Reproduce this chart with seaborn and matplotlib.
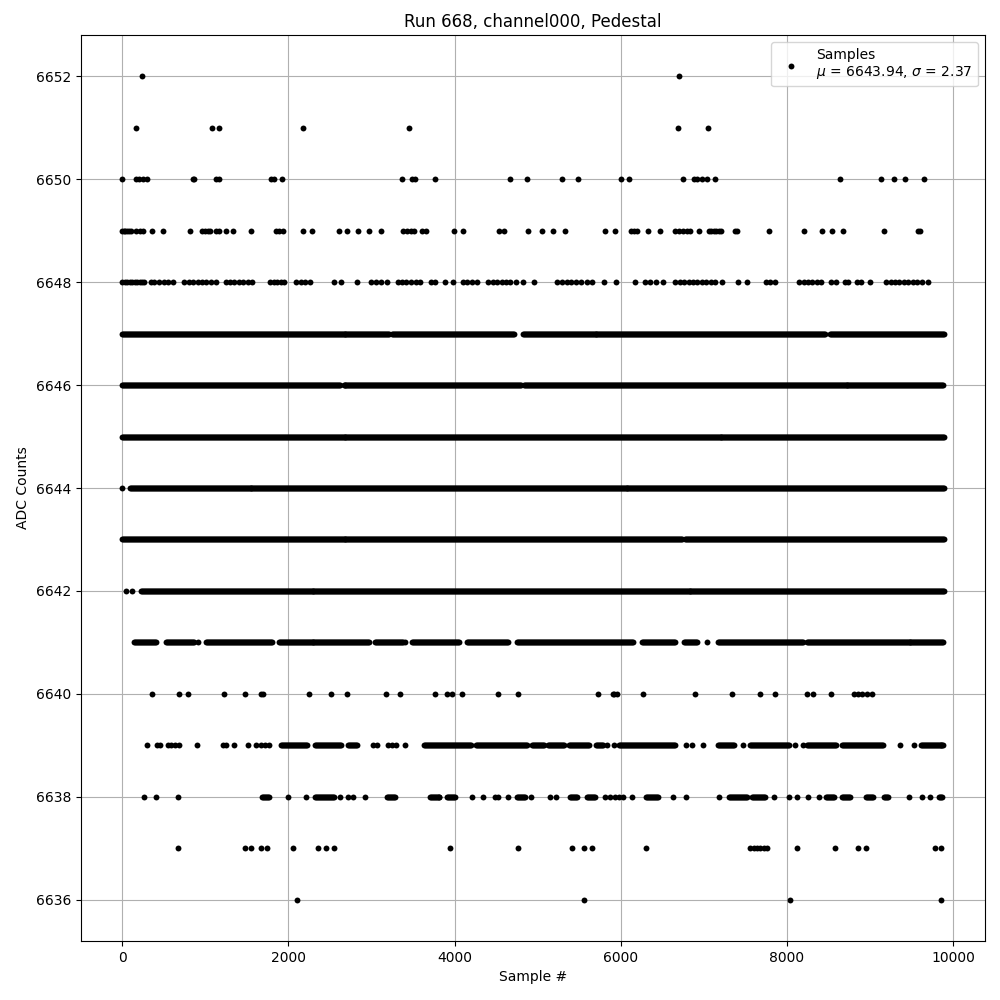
import numpy as np
import pandas as pd
import matplotlib
matplotlib.use("Agg")
import matplotlib.pyplot as plt
import seaborn as sns

# Isolated samples per ADC level (sample numbers)
hits_6652 = [234, 6703]
hits_6651 = [167, 1081, 1168, 2176, 3458, 6683, 7050]
hits_6650 = [0, 167, 200, 247, 294, 848, 868, 1135, 1168, 1796, 1823, 1929, 3371,
             3492, 3525, 3759, 4667, 4873, 5294, 5488, 6008, 6102, 6750, 6877,
             6923, 6977, 7037, 7137, 8639, 9133, 9293, 9420, 9653]
hits_6649 = [0, 20, 40, 60, 80, 113, 167, 214, 247, 360, 494, 821, 961, 995, 1028,
             1061, 1135, 1168, 1248, 1329, 1556, 1856, 1883, 1936, 2176, 2283, 2604,
             2711, 2844, 2971, 3118, 3385, 3431, 3478, 3511, 3605, 3658, 3999, 4099,
             4533, 4593, 4887, 5054, 5187, 5334, 5808, 5935, 6122, 6162, 6195, 6329,
             6476, 6650, 6696, 6750, 6796, 6836, 6943, 7063, 7090, 7117, 7143, 7177,
             7210, 7377, 7397, 7784, 8205, 8425, 8545, 8679, 9166, 9580, 9600]
hits_6648 = [0, 30, 60, 90, 120, 150, 180, 210, 240, 267, 347, 387, 441, 501, 547,
             614, 748, 801, 855, 908, 961, 1015, 1068, 1135, 1248, 1295, 1349, 1402,
             1455, 1515, 1562, 1783, 1829, 1869, 1916, 1949, 2096, 2150, 2203, 2263,
             2550, 2637, 2831, 2998, 3051, 3118, 3185, 3318, 3371, 3418, 3472, 3532,
             3585, 3719, 3759, 3886, 3986, 4099, 4153, 4206, 4273, 4406, 4460, 4513,
             4566, 4620, 4673, 4740, 4820, 4954, 5234, 5294, 5354, 5407, 5461, 5521,
             5588, 5655, 5802, 5948, 6168, 6289, 6356, 6423, 6503, 6656, 6710, 6763,
             6816, 6870, 6923, 6977, 7030, 7083, 7137, 7224, 7410, 7524, 7744, 7791,
             7858, 8145, 8199, 8252, 8305, 8359, 8412, 8532, 8585, 8692, 8732, 8839,
             8892, 8999, 9193, 9246, 9300, 9353, 9406, 9460, 9513, 9567, 9627, 9693]
hits_6640 = [361, 688, 794, 1222, 1482, 1676, 1696, 2250, 2517, 2710, 3171, 3338,
             3765, 3912, 3966, 4092, 4526, 4767, 5728, 5902, 5922, 5955, 6269, 6896,
             7343, 7677, 7858, 8238, 8318, 8525, 8806, 8859, 8906, 8959, 9026]
hits_6637 = [668, 1475, 1556, 1669, 1749, 2056, 2357, 2457, 2544, 3946, 4767, 5414,
             5555, 5648, 6309, 7557, 7600, 7640, 7680, 7720, 7757, 8125, 8572, 8852,
             8953, 9780, 9854]
hits_6636 = [2110, 5561, 8038, 9854]

# Stretches of samples where a level is hit continuously (start, end)
runs_6647 = [(0, 3218), (3252, 4720), (4820, 8459), (8519, 9890)]
runs_6646 = [(0, 2617), (2664, 4800), (4840, 9890)]
runs_6645 = [(0, 9890)]
runs_6644 = [(0, 0), (93, 9890)]
runs_6643 = [(0, 6736), (6776, 9890)]
runs_6642 = [(47, 47), (114, 114), (227, 9890)]
runs_6641 = [(147, 414), (534, 881), (915, 915), (1015, 1816), (1883, 2984),
             (3038, 3385), (3405, 3405), (3485, 4052), (4153, 4653), (4753, 6155),
             (6255, 6656), (6756, 6923), (7037, 7037), (7170, 8192), (8238, 9890)]
runs_6639 = [(294, 294), (421, 421), (454, 454), (547, 547), (594, 594), (634, 634),
             (681, 681), (901, 901), (1215, 1215), (1255, 1255), (1349, 1349),
             (1516, 1516), (1616, 1616), (1669, 1669), (1716, 1716), (1763, 1763),
             (1916, 2230), (2317, 2637), (2717, 2831), (3018, 3018), (3071, 3071),
             (3204, 3204), (3245, 3245), (3298, 3298), (3398, 3398), (3632, 4206),
             (4259, 4873), (4934, 5087), (5127, 5321), (5374, 5621), (5701, 5788),
             (5835, 5835), (5915, 5915), (5982, 6656), (6790, 6790), (6856, 6856),
             (6990, 6990), (7170, 7370), (7470, 7470), (7557, 8025), (8092, 8092),
             (8192, 8192), (8238, 8592), (8659, 9160), (9360, 9360), (9527, 9527),
             (9607, 9890)]
runs_6638 = [(267, 267), (407, 407), (668, 668), (1682, 1769), (1996, 1996),
             (2216, 2216), (2317, 2550), (2617, 2617), (2717, 2717), (2784, 2784),
             (2917, 2917), (3185, 3285), (3699, 3819), (3912, 4019), (4206, 4206),
             (4340, 4340), (4486, 4486), (4526, 4526), (4640, 4640), (4753, 4853),
             (4920, 4920), (5154, 5154), (5221, 5221), (5394, 5488), (5588, 5688),
             (5808, 5808), (5875, 5875), (5928, 5928), (5982, 5982), (6029, 6029),
             (6135, 6135), (6309, 6456), (6629, 6629), (6790, 6790), (7184, 7184),
             (7304, 7524), (7577, 7744), (7844, 7844), (8025, 8025), (8125, 8125),
             (8258, 8258), (8385, 8385), (8472, 8579), (8665, 8772), (8946, 9040),
             (9173, 9226), (9466, 9466), (9620, 9620), (9720, 9720), (9827, 9867)]

hits = {6652: hits_6652, 6651: hits_6651, 6650: hits_6650, 6649: hits_6649,
        6648: hits_6648, 6640: hits_6640, 6637: hits_6637, 6636: hits_6636}
runs = {6647: runs_6647, 6646: runs_6646, 6645: runs_6645, 6644: runs_6644,
        6643: runs_6643, 6642: runs_6642, 6641: runs_6641, 6639: runs_6639,
        6638: runs_6638}

xs, ys = [], []
for level, samples in hits.items():
    xs += samples
    ys += [level] * len(samples)
for level, segs in runs.items():
    for a, b in segs:
        s = list(range(a, b + 1, 12)) if b > a else [a]
        xs += s
        ys += [level] * len(s)

df = pd.DataFrame({"sample": xs, "adc": ys})

fig, ax = plt.subplots(figsize=(10, 10), dpi=100)
sns.scatterplot(data=df, x="sample", y="adc", color="black", s=18, linewidth=0,
                label="Samples\n$\\mu$ = 6643.94, $\\sigma$ = 2.37", ax=ax, zorder=2)
ax.set_title("Run 668, channel000, Pedestal")
ax.set_xlabel("Sample #")
ax.set_ylabel("ADC Counts")
ax.set_yticks(np.arange(6636, 6653, 2))
ax.grid(True)
ax.legend(loc="upper right")
plt.subplots_adjust(left=0.081, right=0.985, top=0.965, bottom=0.059)
plt.savefig("out.png")
